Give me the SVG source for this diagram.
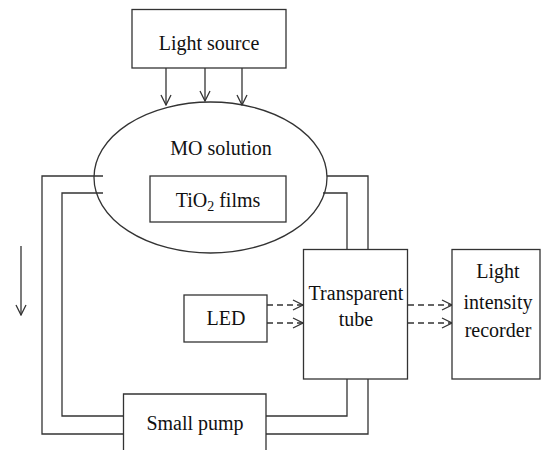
<svg xmlns="http://www.w3.org/2000/svg" width="541" height="450" viewBox="0 0 541 450" font-family="Liberation Serif, Times New Roman, DejaVu Serif, Noto Serif, serif">
<style>
.s{fill:none;stroke:#333;stroke-width:1.3}
.b{fill:#fff;stroke:#333;stroke-width:1.3}
.d{fill:none;stroke:#333;stroke-width:1.3;stroke-dasharray:6 4}
.t{font-family:"Liberation Serif","Times New Roman","DejaVu Serif","Noto Serif",serif;font-size:20px;fill:#111;text-anchor:middle}
</style>
<defs>
<marker id="ah" viewBox="0 0 12 12" refX="11" refY="6" markerWidth="12" markerHeight="12" markerUnits="userSpaceOnUse" orient="auto">
<polyline points="1,1 11,6 1,11" fill="none" stroke="#333" stroke-width="1.3"/>
</marker>
</defs>
<rect width="541" height="450" fill="#fff"/>
<g id="connectors">
<path class="s" d="M103,176 H42 V434 H123"/>
<path class="s" d="M103,193 H62 V416 H123"/>
<path class="s" d="M327,176 H368 V249 M368,379 V434 H266"/>
<path class="s" d="M323,193 H347 V249 M347,379 V416 H266"/>
<line class="s" x1="166" y1="68" x2="166" y2="105" marker-end="url(#ah)"/>
<line class="s" x1="205" y1="68" x2="205" y2="101" marker-end="url(#ah)"/>
<line class="s" x1="242" y1="68" x2="242" y2="105" marker-end="url(#ah)"/>
<line class="s" x1="21" y1="246" x2="21" y2="315" marker-end="url(#ah)"/>
<line class="d" x1="267" y1="305" x2="303" y2="305" marker-end="url(#ah)"/>
<line class="d" x1="267" y1="323" x2="303" y2="323" marker-end="url(#ah)"/>
<line class="d" x1="408" y1="305" x2="452" y2="305" marker-end="url(#ah)"/>
<line class="d" x1="408" y1="323" x2="452" y2="323" marker-end="url(#ah)"/>
</g>
<g id="light-source">
<rect class="b" x="132" y="9.5" width="154" height="58.5"/>
<text class="t" x="209" y="50">Light source</text>
</g>
<g id="mo-solution">
<ellipse class="s" cx="210.5" cy="177.5" rx="116.5" ry="75.5"/>
<text class="t" x="221" y="155">MO solution</text>
</g>
<g id="tio2-films">
<rect class="b" x="150" y="176" width="136" height="46"/>
<text class="t" x="218" y="207">TiO<tspan font-size="14" dy="4">2</tspan><tspan dy="-4"> films</tspan></text>
</g>
<g id="led">
<rect class="b" x="184" y="295" width="83" height="47"/>
<text class="t" x="226" y="325">LED</text>
</g>
<g id="transparent-tube">
<rect class="b" x="303.5" y="249.5" width="104" height="129.5"/>
<text class="t" x="356" y="300">Transparent</text>
<text class="t" x="356" y="326">tube</text>
</g>
<g id="recorder">
<rect class="b" x="452" y="249.5" width="88" height="129.5"/>
<text class="t" x="498" y="278">Light</text>
<text class="t" x="498" y="309">intensity</text>
<text class="t" x="498" y="337">recorder</text>
</g>
<g id="small-pump">
<path class="b" d="M123.5,451 V394 H266 V451"/>
<text class="t" x="195" y="430">Small pump</text>
</g>
</svg>
